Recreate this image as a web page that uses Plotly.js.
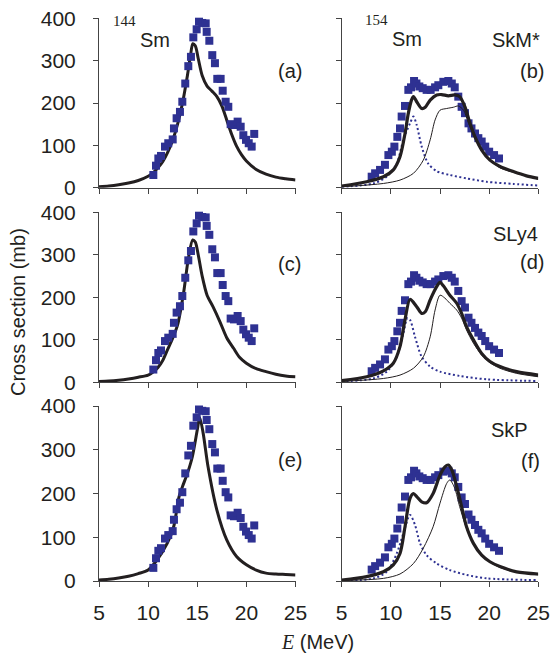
<!DOCTYPE html>
<html><head><meta charset="utf-8">
<script src="https://cdn.plot.ly/plotly-3.0.1.min.js"></script>
<style>html,body{margin:0;padding:0;background:#fff}#plot{width:551px;height:656px}</style>
</head><body><div id="plot"></div>
<script>
// ---- Experimental data ----
const E144 = [10.53,10.8,11.04,11.31,11.72,12.05,12.5,12.63,12.9,13.24,13.48,13.78,14.09,14.36,14.6,14.94,15.18,15.51,15.86,15.96,16.23,16.53,16.8,17.04,17.38,17.59,17.89,18.16,18.4,18.74,19.11,19.42,19.69,19.96,20.24,20.54,20.8];
const sig144 = [30,52,69,75,97,105,114,140,164,179,203,246,287,309,355,374,392,389,388,368,347,313,294,257,257,229,203,191,150,148,156,144,124,113,105,97,127];
const E154 = [8.05,8.4,8.9,9.4,9.75,10.1,10.36,10.66,10.93,11.1,11.44,11.78,12.05,12.36,12.6,12.9,13.24,13.64,14.05,14.5,14.83,15.34,15.85,16.2,16.5,16.86,17.2,17.54,17.9,18.2,18.56,18.9,19.24,19.6,20.0,20.5,21.0];
const sig154 = [26,34,42,54,77,85,97,120,140,168,193,231,237,252,246,239,235,231,231,237,242,250,252,246,237,215,191,176,152,140,128,117,109,97,85,77,69];

// ---- 144Sm theory (a) SkM*, (c) SLy4, (e) SkP ----
const Ea = [5,6,7,8,9,10,10.5,11,11.5,12,12.5,13,13.5,14,14.3,14.55,14.8,15.1,15.5,16,16.5,17,17.5,18,18.5,19,19.5,20,21,22,23,24,25];
const Sa = [2,4,7,11,17,27,35,47,62,84,112,150,200,265,310,340,335,305,265,240,228,215,193,160,126,98,78,63,43,32,25,21,18];
const Ec = [5,6,7,8,9,10,10.5,11,11.5,12,12.5,13,13.6,14.1,14.54,14.8,15.1,15.5,16,16.6,17.3,18,18.7,19.3,20,21,22,23,24,25];
const Sc = [2,3,5,8,12,17,24,35,52,78,104,135,209,292,335,330,300,250,205,178,143,105,80,59,45,32,25,19,15,13];
const Ee = [5,6,7,8,9,10,10.9,11.94,12.6,13.15,13.5,14,14.5,15,15.25,15.6,16.1,17,18,19,20,21,22,23,24,25];
const Se = [2,4,7,11,17,25,48,86,124,193,216,246,284,345,374,338,261,162,94,56,37,25,18,16,15,14];

// ---- 154Sm theory: total (thick), K=1 component (thin solid), K=0 component (dotted) ----
const Eb_t = [5,7.54,9.24,10.25,10.93,11.44,11.78,12.1,12.3,12.63,13.14,13.5,14,14.66,15.17,15.85,16.5,17,17.54,18.05,18.56,19.24,20.08,21.1,22.46,23.8,25];
const Sb_t = [4,14,26,42,73,128,176,207,215,203,187,190,207,219,220,217,219,215,191,152,120,89,65,50,38,28,22];
const Eb_1 = [5,9.24,10.93,12.3,13.3,14,14.5,15,15.68,16.36,16.86,17.4,17.9,18.56,19.24,20.08,21.1,22.8,25];
const Sb_1 = [2,10,18,34,65,113,160,183,187,190,193,183,152,117,89,65,47,34,20];
const Eb_0 = [5,8.2,9.58,10.6,11.27,11.95,12.3,12.63,13.14,13.8,14.66,16,17.7,19.75,22.46,25];
const Sb_0 = [2,10,26,57,113,152,168,148,97,57,39,30,22,14,9,5];

const Ed_t = [5,7.54,9.24,10.25,10.93,11.44,11.95,12.63,13.14,13.5,14,14.66,15,15.34,16,16.7,17.2,17.7,18.4,19.24,20.08,21.1,22.8,25];
const Sd_t = [4,13,27,45,84,147,195,178,162,166,194,225,235,227,205,186,162,131,100,68,49,37,25,17];
const Ed_1 = [5,9.24,10.93,12.3,13.3,14,14.5,15,15.5,16,16.7,17.2,17.7,18.4,19.24,20.08,21.1,22.8,25];
const Sd_1 = [2,9,17,33,60,107,170,205,198,186,170,151,123,92,64,46,33,21,13];
const Ed_0 = [5,8.2,9.58,10.6,11.27,11.68,11.95,12.46,13.14,14,15,17,19.75,25];
const Sd_0 = [2,9,25,60,115,151,147,107,60,37,25,15,7,3];

const Ef_t = [5,7.54,9.24,10.25,10.93,11.44,11.95,12.3,12.63,13.14,13.64,14.3,15,15.5,15.85,16.2,16.7,17.2,17.7,18.4,19.24,20.08,21.1,22.8,25];
const Sf_t = [2,10,21,37,63,124,189,200,193,181,179,200,242,261,265,254,216,170,124,86,59,44,33,21,16];
const Ef_1 = [5,9.24,10.93,12.3,13.3,14.3,15,15.68,16,16.5,17,17.7,18.4,19.24,20.08,21.1,22.8,25];
const Sf_1 = [1,6,16,40,75,124,178,223,231,212,170,120,85,58,43,31,20,14];
const Ef_0 = [5,8.2,9.58,10.6,11.27,11.95,12.46,12.97,13.64,14.66,16,17.7,19.75,25];
const Sf_0 = [0.5,6,21,63,109,151,128,86,59,40,25,14,6,2];

const xTicks = [5,10,15,20,25];
const yTicks = [0,100,200,300,400];

// ---- styles ----
const BLUE = '#2e3192', INK = '#231f20';
const FONT = 'Liberation Sans, Arial, sans-serif';
const W = 551, H = 656;
const colX = [[99/W, 295.5/W], [341.7/W, 538.3/W]];
const rowY = [[(H-187.7)/H, (H-18.3)/H], [(H-382.3)/H, (H-212.3)/H], [(H-581)/H, (H-406)/H]];

function expTrace(x, y, k) {
  return {x, y, xaxis: 'x'+k, yaxis: 'y'+k, type: 'scatter', mode: 'markers',
    marker: {symbol: 'square', size: 8, color: BLUE}, cliponaxis: false, hoverinfo: 'skip'};
}
function lineTrace(x, y, k, w, color, dash) {
  return {x, y, xaxis: 'x'+k, yaxis: 'y'+k, type: 'scatter', mode: 'lines',
    line: {width: w, color: color, dash: dash || 'solid', shape: 'spline', smoothing: 0.8}, hoverinfo: 'skip'};
}
const DOT = '2px,2.5px';

const traces = [
  lineTrace(Ea, Sa, 1, 3, INK), expTrace(E144, sig144, 1),
  lineTrace(Ec, Sc, 3, 3, INK), expTrace(E144, sig144, 3),
  lineTrace(Ee, Se, 5, 3, INK), expTrace(E144, sig144, 5),
  expTrace(E154, sig154, 2), lineTrace(Eb_0, Sb_0, 2, 2, BLUE, DOT), lineTrace(Eb_1, Sb_1, 2, 1, INK), lineTrace(Eb_t, Sb_t, 2, 3.2, INK),
  expTrace(E154, sig154, 4), lineTrace(Ed_0, Sd_0, 4, 2, BLUE, DOT), lineTrace(Ed_1, Sd_1, 4, 1, INK), lineTrace(Ed_t, Sd_t, 4, 3.2, INK),
  expTrace(E154, sig154, 6), lineTrace(Ef_0, Sf_0, 6, 2, BLUE, DOT), lineTrace(Ef_1, Sf_1, 6, 1, INK), lineTrace(Ef_t, Sf_t, 6, 3.2, INK)
];

const layout = {
  width: W, height: H, margin: {l: 0, r: 0, t: 0, b: 0},
  paper_bgcolor: '#fff', plot_bgcolor: 'rgba(0,0,0,0)', showlegend: false,
  font: {family: FONT, size: 21, color: INK},
  annotations: []
};
for (let k = 1; k <= 6; k++) {
  const col = (k - 1) % 2, row = Math.floor((k - 1) / 2);
  const xs = k === 1 ? '' : k;
  layout['xaxis' + xs] = {domain: colX[col], anchor: 'y' + k, range: [5, 25], tickvals: xTicks,
    ticktext: xTicks.map(String), showticklabels: row === 2, ticks: 'outside', ticklen: 5, tickwidth: 1,
    tickcolor: '#444', showline: true, linecolor: '#444', linewidth: 1, showgrid: false, zeroline: false,
    ticklabelstandoff: 8, tickfont: {family: FONT, size: 21, color: INK}, fixedrange: true};
  layout['yaxis' + xs] = {domain: rowY[row], anchor: 'x' + k, range: [0, 400], tickvals: yTicks,
    ticktext: yTicks.map(String), showticklabels: col === 0, ticks: 'outside', ticklen: 5, tickwidth: 1,
    tickcolor: '#444', showline: true, linecolor: '#444', linewidth: 1, showgrid: false, zeroline: false,
    ticklabelstandoff: 13, tickfont: {family: FONT, size: 21, color: INK}, fixedrange: true};
}
function ann(text, x, y, size, opts) {
  layout.annotations.push(Object.assign({text, x: x / W, y: 1 - y / H, xref: 'paper', yref: 'paper',
    showarrow: false, xanchor: 'center', yanchor: 'middle', font: {family: FONT, size: size, color: INK}}, opts || {}));
}
const SERIF = 'Liberation Serif, Times New Roman, serif';
ann('144', 124.5, 21, 15, {font: {family: SERIF, size: 15, color: INK}});
ann('Sm', 155, 40, 20);
ann('154', 376, 20, 15, {font: {family: SERIF, size: 15, color: INK}});
ann('Sm', 407, 39, 20);
ann('SkM*', 516, 40, 20);
ann('(a)', 289.5, 71, 20);
ann('(b)', 531.5, 71, 20);
ann('(c)', 289.5, 264, 20);
ann('SLy4', 515, 234, 20);
ann('(d)', 531.5, 262, 20);
ann('(e)', 289.5, 460, 20);
ann('SkP', 510, 430, 20);
ann('(f)', 530, 461, 20);
ann('Cross section (mb)', 18, 312, 20, {textangle: -90});
ann('<span style="font-family:Liberation Serif, Times New Roman, serif;font-style:italic">E</span> (MeV)', 317, 642, 20);

Plotly.newPlot('plot', traces, layout, {displayModeBar: false, staticPlot: true});
</script></body></html>
